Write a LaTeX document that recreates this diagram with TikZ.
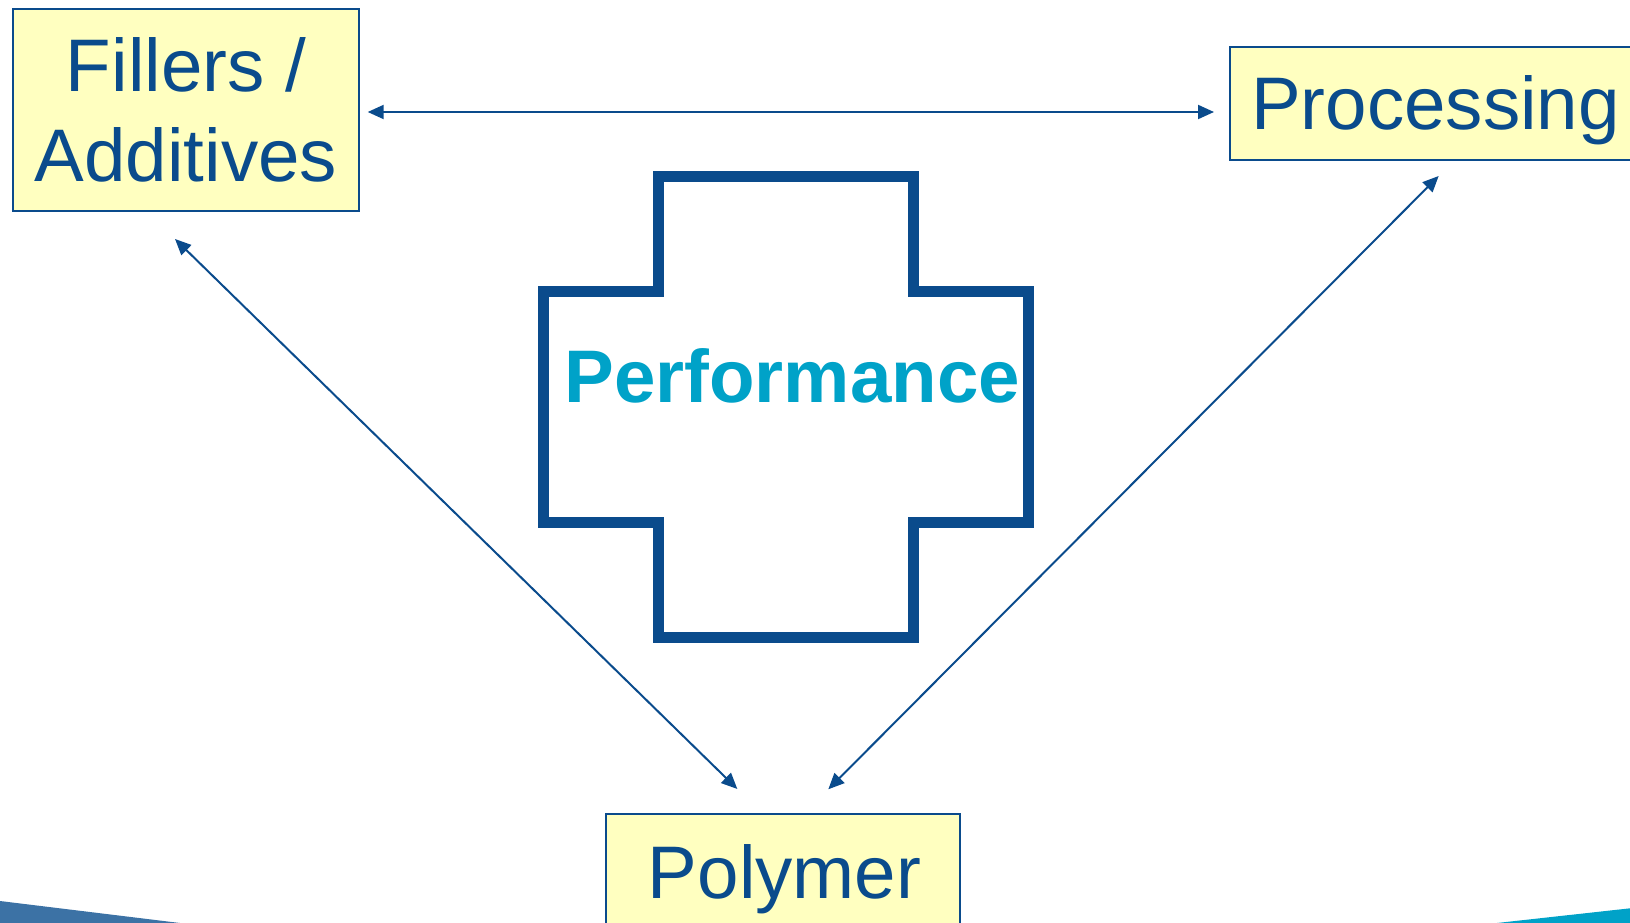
\documentclass[tikz,border=0pt]{standalone}
\usepackage{fontspec}
\setmainfont{Liberation Sans}
\usetikzlibrary{arrows.meta,calc}

\definecolor{navy}{HTML}{0A4B8C}
\definecolor{paleyellow}{HTML}{FFFFC0}
\definecolor{aqua}{HTML}{00A2C8}
\definecolor{steel}{HTML}{3C72A5}

\tikzset{
  termbox/.style={draw=navy, line width=2pt, fill=paleyellow, inner sep=0pt, outer sep=0pt},
  termtext/.style={text=navy, inner sep=0pt, font=\fontsize{74.5}{90}\selectfont},
  link/.style={draw=navy, line width=2pt, {Triangle[length=16pt,width=14pt]}-{Triangle[length=16pt,width=14pt]}},
}

\begin{document}
\begin{tikzpicture}[x=1pt,y=-1pt]
\useasboundingbox (0,0) rectangle (1630,923);
\clip (0,0) rectangle (1630,923);

% corner wedges along the bottom edge
\fill[steel] (0,901) -- (180,923) -- (0,923) -- cycle;
\fill[aqua] (1497,923) -- (1630,908.3) -- (1630,923) -- cycle;

% the three ingredient boxes
\node[termbox, minimum width=346pt, minimum height=202pt] (fill) at (186,110) {};
\node[termtext, align=center, anchor=base] (filltxt) at (186,181.7) {Fillers /\\Additives};

\node[termbox, minimum width=420pt, minimum height=113.3pt, anchor=north west] (proc) at (1230,46.7) {};
\node[termtext, anchor=base west] (proctxt) at (1251,130) {Processing};

\node[termbox, minimum width=354.3pt, minimum height=130pt, anchor=north west] (poly) at (605.7,814.3) {};
\node[termtext, anchor=base] (polytxt) at (784.5,898.3) {Polymer};

% central cross
\draw[navy, line width=11pt, line join=miter]
  (658.7,176) -- (913.3,176) -- (913.3,291.3) -- (1028.7,291.3)
  -- (1028.7,522.2) -- (913.3,522.2) -- (913.3,637.3) -- (658.7,637.3)
  -- (658.7,522.2) -- (543.2,522.2) -- (543.2,291.3) -- (658.7,291.3) -- cycle;
\node[text=aqua, inner sep=0pt, anchor=base, font=\fontsize{74.5}{90}\selectfont\bfseries] (perf) at (792.2,402.3) {Performance};

% two-way links between the ingredients
\draw[link, shorten <=8.7pt, shorten >=16pt]
  ($(fill.north east)+(0,103)$) -- ($(proc.north west)+(0,65.3)$);
\draw[link, shorten <=40pt, shorten >=36.2pt]
  ($(fill.south west)+(133.4,0)$) -- ($(poly.north west)+(157.5,0)$);
\draw[link, shorten <=22.6pt, shorten >=35.3pt]
  ($(proc.south west)+(224.6,0)$) -- ($(poly.north west)+(197.7,0)$);
\end{tikzpicture}
\end{document}
